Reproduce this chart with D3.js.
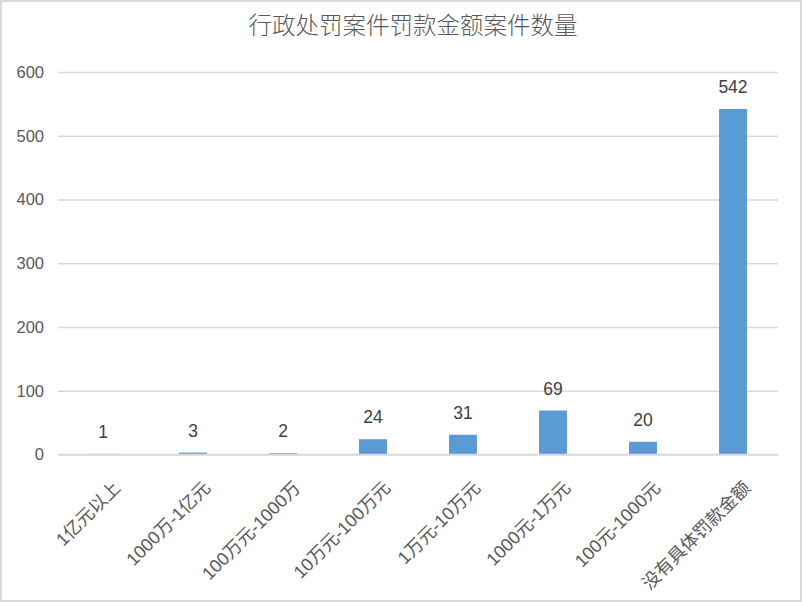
<!DOCTYPE html>
<html><head><meta charset="utf-8">
<script src="https://cdn.jsdelivr.net/npm/d3@7/dist/d3.min.js"></script>
<style>html,body{margin:0;padding:0;background:#fff;}svg{display:block;}</style>
</head><body>
<script>
const title = "行政处罚案件罚款金额案件数量";
const categories = ["1亿元以上","1000万-1亿元","100万元-1000万","10万元-100万元","1万元-10万元","1000元-1万元","100元-1000元","没有具体罚款金额"];
const values = [1,3,2,24,31,69,20,542];
const yTicks = [0,100,200,300,400,500,600];

const W = 802, H = 602;
const plot = {left:58, right:778, top:72, bottom:454.5};
const latin = "'Liberation Sans', Helvetica, Arial, 'Noto Sans CJK SC', sans-serif";

const svg = d3.select("body").append("svg").attr("width",W).attr("height",H);
svg.append("rect").attr("x",1).attr("y",1).attr("width",W-2).attr("height",H-2)
  .attr("fill","#fff").attr("stroke","#d9d9d9").attr("stroke-width",2);

const x = d3.scaleBand().domain(categories).range([plot.left, plot.right]).paddingInner(0.69).paddingOuter(0.345);
const y = d3.scaleLinear().domain([0,600]).range([plot.bottom, plot.top]);

svg.append("text").attr("x",413).attr("y",34).attr("text-anchor","middle")
  .attr("font-family","'Noto Sans CJK SC', sans-serif").attr("font-size",23.5).attr("font-weight",300)
  .attr("fill","#595959").text(title);

// gridlines + y labels
const yAxis = d3.axisLeft(y).tickValues(yTicks).tickSize(-(plot.right-plot.left)).tickPadding(14);
const gy = svg.append("g").attr("transform",`translate(${plot.left},0)`).call(yAxis);
gy.select(".domain").remove();
gy.selectAll(".tick line").attr("stroke","#d9d9d9").attr("stroke-width",1.5);
gy.selectAll(".tick text").attr("font-family",latin).attr("font-size",16.5).attr("fill","#595959");

// bars
svg.append("g").selectAll("rect").data(values).join("rect")
  .attr("x",(d,i)=>x(categories[i])).attr("width",x.bandwidth())
  .attr("y",d=>y(d)).attr("height",d=>plot.bottom - y(d)).attr("fill","#5b9bd5");

// baseline redraw over bars
svg.append("line").attr("x1",plot.left).attr("x2",plot.right).attr("y1",y(0)).attr("y2",y(0))
  .attr("stroke","#d9d9d9").attr("stroke-width",1.5);

// value labels
svg.append("g").selectAll("text").data(values).join("text")
  .attr("x",(d,i)=>x(categories[i])+x.bandwidth()/2).attr("y",d=>y(d)-16)
  .attr("text-anchor","middle").attr("font-family",latin).attr("font-size",17.5).attr("fill","#404040")
  .text(d=>d);

// category labels
const xAxis = d3.axisBottom(x).tickSize(0).tickPadding(0);
const gx = svg.append("g").attr("transform",`translate(0,${plot.bottom})`).call(xAxis);
gx.select(".domain").remove();
gx.selectAll(".tick text")
  .attr("font-family",latin).attr("font-size",18).attr("fill","#595959")
  .attr("text-anchor","end").attr("dy","0.35em")
  .attr("transform","translate(14,30) rotate(-45)");
</script>
</body></html>
